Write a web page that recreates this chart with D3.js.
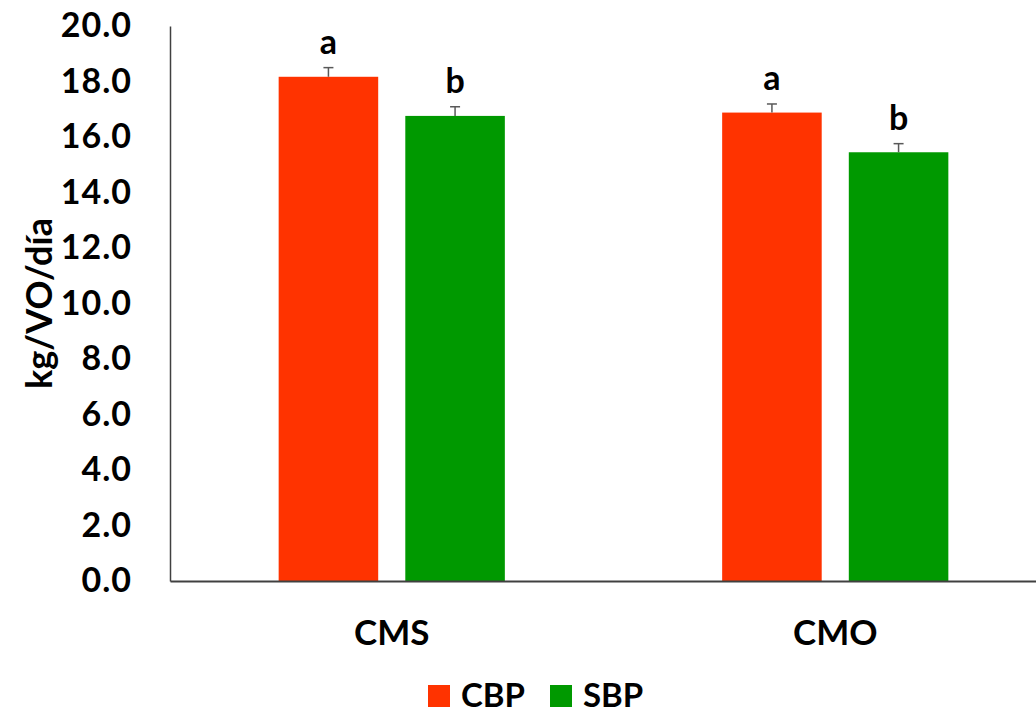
<!DOCTYPE html>
<html>
<head>
<meta charset="utf-8">
<script src="https://cdn.jsdelivr.net/npm/d3@7"></script>
<style>
  html, body { margin: 0; padding: 0; background: #fff; }
  svg { display: block; }
  text { font-family: Lato, "Open Sans", "DejaVu Sans", sans-serif; font-weight: bold; fill: #000; }
</style>
</head>
<body>
<svg id="chart" width="1036" height="715"></svg>
<script>
const categories = ["CMS", "CMO"];
const seriesNames = ["CBP", "SBP"];
const cbpValues = [18.17, 16.88];
const sbpValues = [16.76, 15.45];
const cbpErrors = [0.33, 0.31];
const sbpErrors = [0.33, 0.31];
const cbpLetters = ["a", "a"];
const sbpLetters = ["b", "b"];
const yTicks = [0, 2, 4, 6, 8, 10, 12, 14, 16, 18, 20];
const colors = ["#FF3300", "#009900"];

(function () {
const svg = d3.select("#chart");
const pLeft = 170, pTop = 26, pBottom = 581, pRight = 1057;
const FS = 34;

const x = d3.scaleBand().domain(categories).range([pLeft, pRight]).paddingInner(0.49).paddingOuter(0.245);
const xs = d3.scaleBand().domain(seriesNames).range([0, x.bandwidth()]).paddingInner(0.214);
const y = d3.scaleLinear().domain([0, 20]).range([pBottom, pTop]);

const data = categories.map((c, i) => ({
  cat: c,
  vals: [
    {s: "CBP", v: cbpValues[i], e: cbpErrors[i], l: cbpLetters[i], c: colors[0]},
    {s: "SBP", v: sbpValues[i], e: sbpErrors[i], l: sbpLetters[i], c: colors[1]}
  ]
}));

const g = svg.append("g");
const groups = g.selectAll("g.cat").data(data).enter().append("g")
  .attr("class", "cat")
  .attr("transform", d => `translate(${x(d.cat)},0)`);

groups.selectAll("rect").data(d => d.vals).enter().append("rect")
  .attr("x", d => xs(d.s))
  .attr("width", xs.bandwidth())
  .attr("y", d => y(d.v))
  .attr("height", d => y(0) - y(d.v))
  .attr("fill", d => d.c);

// error bars
const eb = groups.selectAll("g.eb").data(d => d.vals).enter().append("g").attr("class", "eb");
eb.append("line")
  .attr("x1", d => xs(d.s) + xs.bandwidth() / 2)
  .attr("x2", d => xs(d.s) + xs.bandwidth() / 2)
  .attr("y1", d => y(d.v))
  .attr("y2", d => y(d.v + d.e))
  .attr("stroke", "#595959").attr("stroke-width", 1.5);
eb.append("line")
  .attr("x1", d => xs(d.s) + xs.bandwidth() / 2 - 5)
  .attr("x2", d => xs(d.s) + xs.bandwidth() / 2 + 5)
  .attr("y1", d => y(d.v + d.e))
  .attr("y2", d => y(d.v + d.e))
  .attr("stroke", "#595959").attr("stroke-width", 1.5);

// letters
groups.selectAll("text.letter").data(d => d.vals).enter().append("text")
  .attr("class", "letter")
  .attr("x", d => xs(d.s) + xs.bandwidth() / 2)
  .attr("y", d => y(d.v + d.e) - 14)
  .attr("text-anchor", "middle")
  .attr("font-size", FS)
  .text(d => d.l);

// y axis
const yAxis = d3.axisLeft(y).tickValues(yTicks).tickSize(0).tickPadding(38).tickFormat(d3.format(".1f"));
const ya = svg.append("g").attr("transform", `translate(${pLeft},0)`).call(yAxis);
ya.select(".domain").attr("stroke", "#404040").attr("stroke-width", 1.5);
ya.selectAll("text").attr("font-size", FS).attr("font-family", "Lato, sans-serif").attr("font-weight", "bold").attr("fill", "#000").attr("letter-spacing", 1);

// x axis
const xAxis = d3.axisBottom(x).tickSize(0).tickPadding(39);
const xa = svg.append("g").attr("transform", `translate(0,${pBottom})`).call(xAxis);
xa.select(".domain").attr("stroke", "#404040").attr("stroke-width", 2);
xa.selectAll("text").attr("font-size", 35).attr("font-family", "Lato, sans-serif").attr("font-weight", "bold").attr("fill", "#000");

// y title
svg.append("text")
  .attr("transform", `translate(52,${(pTop + pBottom) / 2}) rotate(-90)`)
  .attr("text-anchor", "middle")
  .attr("font-size", 36)
  .text("kg/VO/día");

// legend
const legendX = [428, 550];
const lg = svg.selectAll("g.legend").data(seriesNames).enter().append("g")
  .attr("class", "legend")
  .attr("transform", (d, i) => `translate(${legendX[i]},685)`);
lg.append("rect").attr("width", 22).attr("height", 22).attr("fill", (d, i) => colors[i]);
lg.append("text").attr("x", 33).attr("y", 22).attr("font-size", 33).text(d => d);
})();
</script>
</body>
</html>
